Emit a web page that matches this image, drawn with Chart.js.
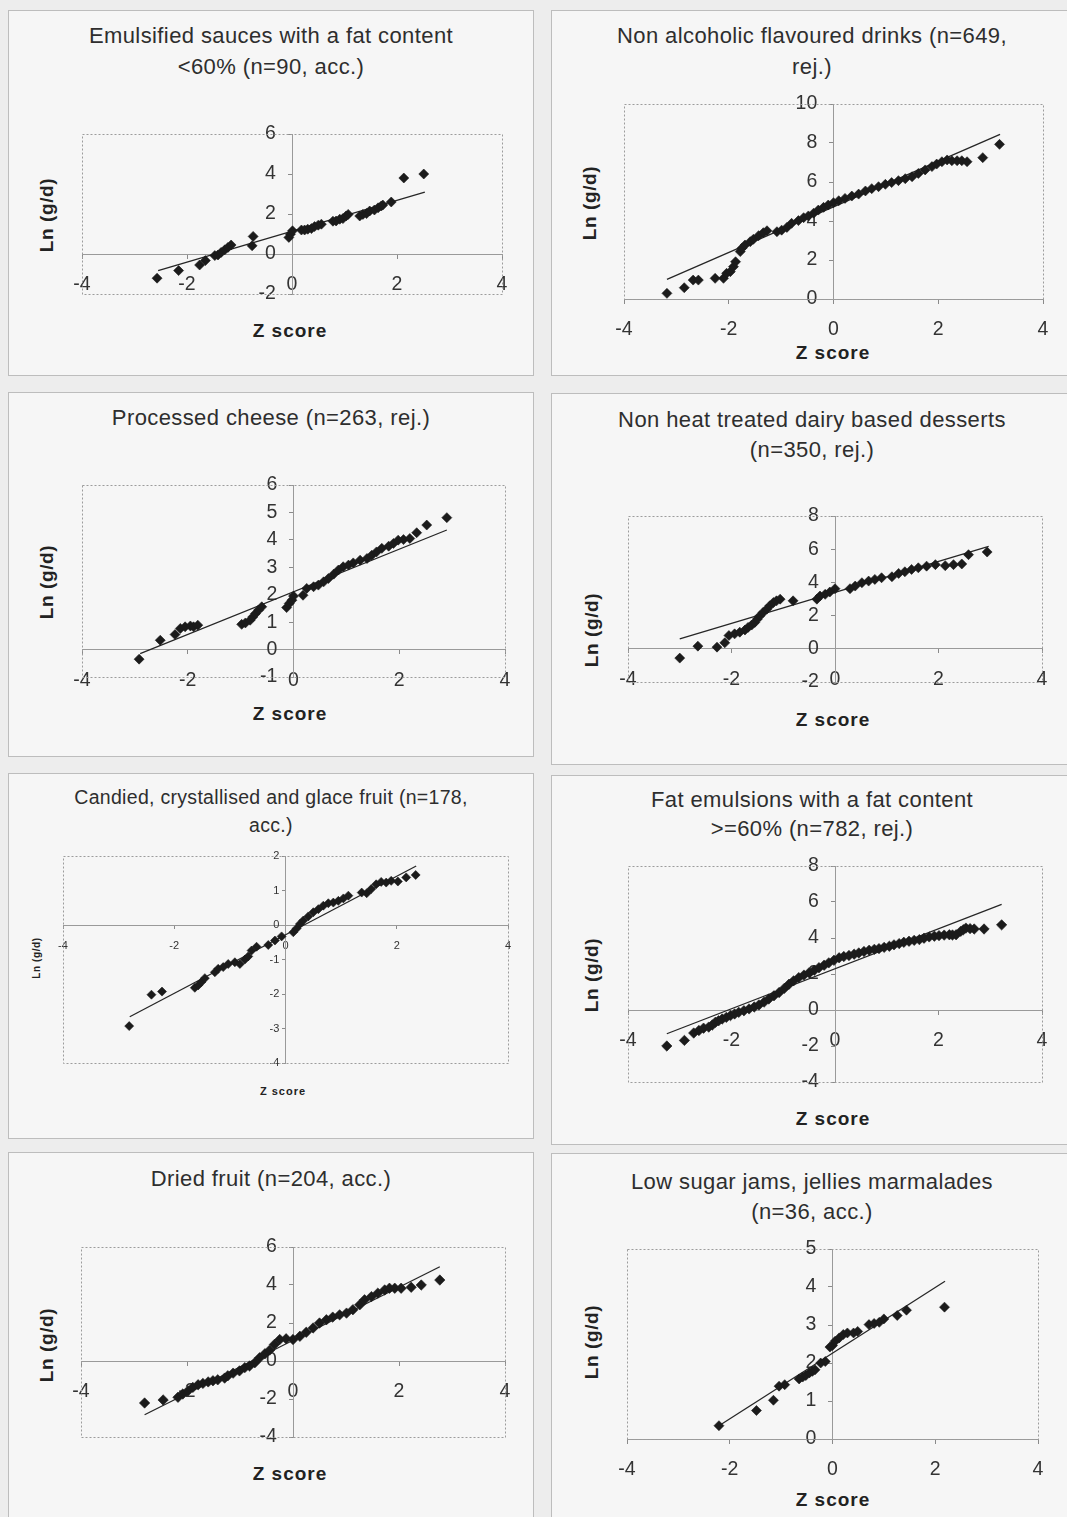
<!DOCTYPE html>
<html><head><meta charset="utf-8">
<script src="https://cdn.jsdelivr.net/npm/chart.js@4.4.1/dist/chart.umd.min.js"></script>
<style>
html,body{margin:0;padding:0;}
body{width:1067px;height:1517px;position:relative;overflow:hidden;background:#ededed;font-family:'Liberation Sans',Arial,sans-serif;}
.panel{position:absolute;border:1px solid #bdbdbd;background:#f6f6f6;box-sizing:border-box;}
.t{position:absolute;text-align:center;color:#2e2e2e;white-space:nowrap;height:26px;line-height:26px;}
.yl{position:absolute;font-weight:bold;color:#222;white-space:nowrap;transform:translate(-50%,-50%) rotate(-90deg);letter-spacing:0.6px;}
.xl{position:absolute;font-weight:bold;color:#222;white-space:nowrap;transform:translate(-50%,-50%);letter-spacing:1px;}
canvas{position:absolute;}
</style></head><body>
<script>
// ---------- DATA ----------
const titles = [
  ["Emulsified sauces with a fat content", "<60% (n=90, acc.)"],
  ["Non alcoholic flavoured drinks (n=649,", "rej.)"],
  ["Processed cheese (n=263, rej.)"],
  ["Non heat treated dairy based desserts", "(n=350, rej.)"],
  ["Candied, crystallised and glace fruit (n=178,", "acc.)"],
  ["Fat emulsions with a fat content", ">=60% (n=782, rej.)"],
  ["Dried fruit (n=204, acc.)"],
  ["Low sugar jams, jellies marmalades", "(n=36, acc.)"]
];
const xAxisTitle = "Z score";
const yAxisTitle = "Ln (g/d)";
const xRange = [-4, 4, 2];   // min, max, step

const p1YRange = [-2, 6, 2];
const p1Z  = [-2.57,-2.16,-1.76,-1.65,-1.47,-1.41,-1.35,-1.28,-1.22,-1.16,-0.76,-0.74,-0.06,-0.03,0.01,0.18,0.24,0.30,0.37,0.43,0.50,0.56,0.78,0.84,0.91,0.97,1.03,1.07,1.29,1.35,1.42,1.48,1.57,1.64,1.70,1.73,1.89,2.13,2.51];
const p1Ln = [-1.21,-0.83,-0.55,-0.33,-0.08,-0.05,0.08,0.21,0.33,0.45,0.41,0.88,0.83,0.99,1.16,1.20,1.20,1.24,1.27,1.37,1.44,1.49,1.64,1.65,1.74,1.77,1.90,1.98,1.90,1.98,2.02,2.15,2.20,2.31,2.40,2.45,2.60,3.80,4.00];
const p1FitZ = [-2.55, 2.53];
const p1FitLn = [-0.83, 3.09];

const p2YRange = [0, 10, 2];
const p2Z  = [-3.18,-2.85,-2.68,-2.58,-2.26,-2.10,-2.04,-1.97,-1.91,-1.87,-1.78,-1.75,-1.69,-1.59,-1.53,-1.43,-1.34,-1.27,-1.08,-0.99,-0.89,-0.80,-0.67,-0.57,-0.48,-0.38,-0.29,-0.19,-0.10,0.00,0.10,0.22,0.35,0.48,0.61,0.73,0.86,0.99,1.11,1.24,1.37,1.50,1.62,1.75,1.88,1.97,2.07,2.17,2.26,2.36,2.45,2.55,2.85,3.17];
const p2Ln = [0.29,0.58,0.97,0.97,1.06,1.06,1.32,1.40,1.66,1.91,2.43,2.60,2.77,2.94,3.06,3.25,3.40,3.50,3.45,3.53,3.67,3.88,4.02,4.17,4.26,4.40,4.56,4.70,4.82,4.94,5.04,5.16,5.28,5.38,5.54,5.66,5.76,5.88,5.97,6.07,6.17,6.27,6.44,6.62,6.79,6.92,7.04,7.13,7.09,7.09,7.09,7.04,7.25,7.93];
const p2FitZ = [-3.18, 3.18];
const p2FitLn = [1.01, 8.44];

const p3YRange = [-1, 6, 1];
const p3Z  = [-2.92,-2.52,-2.24,-2.14,-2.05,-1.95,-1.89,-1.81,-0.98,-0.91,-0.82,-0.77,-0.72,-0.66,-0.60,-0.13,-0.08,-0.03,0.00,0.18,0.25,0.38,0.47,0.57,0.66,0.76,0.85,0.94,1.04,1.13,1.26,1.39,1.48,1.57,1.67,1.80,1.89,1.98,2.08,2.20,2.33,2.52,2.90];
const p3Ln = [-0.35,0.34,0.55,0.77,0.83,0.86,0.83,0.89,0.92,0.97,1.07,1.19,1.31,1.44,1.56,1.53,1.68,1.80,1.95,1.98,2.23,2.29,2.35,2.47,2.59,2.75,2.90,3.02,3.08,3.16,3.26,3.32,3.44,3.56,3.69,3.77,3.87,3.99,4.01,4.05,4.26,4.54,4.81];
const p3FitZ = [-2.90, 2.90];
const p3FitLn = [-0.15, 4.36];

const p4YRange = [-2, 8, 2];
const p4Z  = [-3.00,-2.65,-2.28,-2.13,-2.05,-1.94,-1.84,-1.74,-1.68,-1.61,-1.55,-1.50,-1.45,-1.39,-1.32,-1.26,-1.19,-1.13,-1.06,-0.81,-0.35,-0.29,-0.19,-0.10,0.00,0.29,0.39,0.52,0.65,0.77,0.90,1.10,1.23,1.35,1.48,1.61,1.77,1.94,2.13,2.29,2.45,2.58,2.94];
const p4Ln = [-0.56,0.16,0.10,0.36,0.80,0.90,1.00,1.13,1.29,1.43,1.59,1.79,1.99,2.19,2.39,2.59,2.79,2.89,2.99,2.89,2.99,3.18,3.28,3.42,3.62,3.62,3.78,3.98,4.08,4.18,4.28,4.34,4.54,4.64,4.78,4.88,4.98,5.07,5.01,5.07,5.11,5.67,5.83];
const p4FitZ = [-3.00, 2.97];
const p4FitLn = [0.60, 6.17];

const p5YRange = [-4, 2, 1];
const p5Z  = [-2.81,-2.41,-2.22,-1.63,-1.57,-1.51,-1.45,-1.27,-1.21,-1.12,-1.03,-0.91,-0.82,-0.73,-0.67,-0.61,-0.52,-0.31,-0.19,-0.07,0.14,0.20,0.26,0.32,0.41,0.50,0.59,0.68,0.77,0.86,0.95,1.04,1.13,1.37,1.46,1.54,1.63,1.72,1.81,1.90,2.02,2.17,2.34];
const p5Ln = [-2.93,-2.02,-1.93,-1.82,-1.75,-1.65,-1.54,-1.37,-1.27,-1.22,-1.13,-1.08,-1.13,-1.00,-0.91,-0.74,-0.63,-0.58,-0.45,-0.33,-0.21,-0.10,0.03,0.13,0.25,0.37,0.46,0.56,0.63,0.65,0.70,0.77,0.85,0.94,0.92,1.04,1.18,1.25,1.23,1.28,1.26,1.38,1.45];
const p5FitZ = [-2.80, 2.35];
const p5FitLn = [-2.66, 1.71];

const p6YRange = [-4, 8, 2];
const p6Z  = [-3.25,-2.91,-2.73,-2.63,-2.54,-2.44,-2.37,-2.31,-2.25,-2.18,-2.10,-2.02,-1.94,-1.86,-1.76,-1.66,-1.56,-1.47,-1.37,-1.28,-1.18,-1.08,-0.98,-0.89,-0.80,-0.70,-0.60,-0.50,-0.40,-0.31,-0.21,-0.12,-0.02,0.08,0.17,0.27,0.37,0.46,0.56,0.66,0.76,0.85,0.95,1.05,1.14,1.24,1.33,1.43,1.53,1.63,1.72,1.82,1.92,2.01,2.11,2.21,2.27,2.34,2.43,2.48,2.53,2.61,2.69,2.88,3.22];
const p6Ln = [-2.00,-1.69,-1.28,-1.14,-1.01,-0.95,-0.83,-0.68,-0.60,-0.50,-0.41,-0.31,-0.22,-0.13,-0.04,0.06,0.17,0.28,0.44,0.61,0.79,0.97,1.20,1.43,1.62,1.80,1.94,2.07,2.21,2.35,2.49,2.62,2.76,2.90,2.97,3.03,3.10,3.17,3.25,3.32,3.37,3.41,3.48,3.54,3.62,3.69,3.76,3.82,3.87,3.91,3.99,4.06,4.10,4.13,4.16,4.18,4.17,4.18,4.37,4.46,4.55,4.52,4.50,4.50,4.73];
const p6FitZ = [-3.25, 3.22];
const p6FitLn = [-1.32, 5.87];

const p7YRange = [-4, 6, 2];
const p7Z  = [-2.80,-2.45,-2.17,-2.08,-1.98,-1.89,-1.79,-1.70,-1.60,-1.51,-1.42,-1.29,-1.23,-1.13,-1.01,-0.91,-0.82,-0.72,-0.63,-0.53,-0.44,-0.35,-0.25,-0.13,0.00,0.13,0.25,0.38,0.50,0.63,0.75,0.88,1.01,1.13,1.26,1.35,1.48,1.60,1.73,1.82,1.92,2.04,2.23,2.42,2.77];
const p7Ln = [-2.21,-2.05,-1.91,-1.74,-1.57,-1.39,-1.25,-1.18,-1.10,-1.04,-0.99,-0.90,-0.78,-0.64,-0.52,-0.35,-0.26,-0.09,0.17,0.38,0.57,0.87,1.13,1.17,1.13,1.30,1.51,1.74,2.00,2.17,2.31,2.43,2.52,2.70,2.96,3.22,3.39,3.57,3.74,3.83,3.83,3.83,3.88,4.00,4.26];
const p7FitZ = [-2.80, 2.77];
const p7FitLn = [-2.83, 4.96];

const p8YRange = [0, 5, 1];
const p8Z  = [-2.21,-1.48,-1.15,-1.04,-0.93,-0.65,-0.58,-0.52,-0.45,-0.39,-0.34,-0.23,-0.14,-0.05,0.00,0.05,0.13,0.21,0.29,0.41,0.49,0.71,0.81,0.91,1.00,1.26,1.44,2.18];
const p8Ln = [0.35,0.75,1.02,1.39,1.43,1.58,1.63,1.67,1.74,1.78,1.82,2.00,2.04,2.42,2.46,2.57,2.66,2.75,2.79,2.79,2.83,3.01,3.04,3.07,3.16,3.25,3.39,3.47];
const p8FitZ = [-2.21, 2.19];
const p8FitLn = [0.35, 4.15];

// ---------- LAYOUT (positions / styles only) ----------
const geo = [
  {box:[8,10,526,366],   ty:[36,67],   plot:[82,134,502,294],   yl:[47,215],  xl:[290,331],  tick:19.5, tf:22,   af:19, r:5.0, sp:'   ', tl:4, tp:15},
  {box:[551,10,522,366], ty:[36,67],   plot:[624,104,1043,299], yl:[590,203], xl:[833,353],  tick:19.5, tf:22,   af:19, r:5.0, sp:'   ', tl:4, tp:15},
  {box:[8,392,526,365],  ty:[418],     plot:[82,485,505,677],   yl:[47,582],  xl:[290,714],  tick:19.5, tf:22,   af:19, r:5.0, sp:'   ', tl:4, tp:15},
  {box:[551,393,522,372],ty:[420,450], plot:[628,516,1042,682], yl:[592,630], xl:[833,720],  tick:19.5, tf:22,   af:19, r:5.0, sp:'   ', tl:4, tp:15},
  {box:[8,773,526,366],  ty:[797,825], plot:[63,856,508,1063],  yl:[36,958],  xl:[283,1091], tick:11,   tf:19.5, af:11, r:4.5, sp:'  ',  tl:3, tp:11},
  {box:[551,775,522,370],ty:[800,829], plot:[628,866,1042,1082],yl:[592,975], xl:[833,1119], tick:19.5, tf:22,   af:19, r:5.2, sp:'   ', tl:4, tp:15},
  {box:[8,1152,526,380], ty:[1179],    plot:[81,1247,505,1437], yl:[47,1345], xl:[290,1474], tick:19.5, tf:22,   af:19, r:5.2, sp:'   ', tl:4, tp:15},
  {box:[551,1153,522,380],ty:[1182,1212],plot:[627,1249,1038,1439],yl:[592,1342],xl:[833,1500],tick:19.5, tf:22, af:19, r:5.0, sp:'   ', tl:4, tp:15}
];

const series = [
  [p1Z,p1Ln,p1FitZ,p1FitLn,p1YRange],
  [p2Z,p2Ln,p2FitZ,p2FitLn,p2YRange],
  [p3Z,p3Ln,p3FitZ,p3FitLn,p3YRange],
  [p4Z,p4Ln,p4FitZ,p4FitLn,p4YRange],
  [p5Z,p5Ln,p5FitZ,p5FitLn,p5YRange],
  [p6Z,p6Ln,p6FitZ,p6FitLn,p6YRange],
  [p7Z,p7Ln,p7FitZ,p7FitLn,p7YRange],
  [p8Z,p8Ln,p8FitZ,p8FitLn,p8YRange]
];

const plotFrame = {
  id: 'plotFrame',
  beforeDatasetsDraw(chart) {
    const {ctx, chartArea: a} = chart;
    ctx.save();
    ctx.strokeStyle = '#9c9c9c';
    ctx.lineWidth = 1;
    ctx.setLineDash([2, 2]);
    ctx.strokeRect(Math.round(a.left) + 0.5, Math.round(a.top) + 0.5,
                   Math.round(a.right - a.left), Math.round(a.bottom - a.top));
    ctx.restore();
  }
};

const pad = {l: 40, r: 30, t: 16, b: 46};

function addDiv(cls, text, css) {
  const d = document.createElement('div');
  d.className = cls;
  d.textContent = text;
  Object.assign(d.style, css);
  document.body.appendChild(d);
  return d;
}

geo.forEach((g, i) => {
  const [zs, lns, fz, fl, yr] = series[i];
  const p = document.createElement('div');
  p.className = 'panel';
  Object.assign(p.style, {left: g.box[0]+'px', top: g.box[1]+'px', width: g.box[2]+'px', height: g.box[3]+'px'});
  document.body.appendChild(p);
  titles[i].forEach((line, k) => {
    addDiv('t', line, {left: g.box[0]+'px', width: g.box[2]+'px', top: (g.ty[k]-13)+'px',
      fontSize: g.tf+'px', letterSpacing: (g.tf < 20 ? 0.3 : 0.4)+'px'});
  });
  addDiv('yl', yAxisTitle, {left: g.yl[0]+'px', top: g.yl[1]+'px', fontSize: (i === 4 ? 10 : g.af)+'px'});
  addDiv('xl', xAxisTitle, {left: g.xl[0]+'px', top: g.xl[1]+'px', fontSize: g.af+'px'});

  const w = g.plot[2]-g.plot[0]+pad.l+pad.r;
  const h = g.plot[3]-g.plot[1]+pad.t+pad.b;
  const c = document.createElement('canvas');
  c.width = w; c.height = h;
  Object.assign(c.style, {left: (g.plot[0]-pad.l)+'px', top: (g.plot[1]-pad.t)+'px', width: w+'px', height: h+'px'});
  document.body.appendChild(c);

  const tickFont = {family: "'Liberation Sans', Arial, sans-serif", size: g.tick};
  new Chart(c, {
    type: 'scatter',
    data: {
      datasets: [
        {
          data: zs.map((v, j) => ({x: v, y: lns[j]})),
          pointStyle: 'rectRot',
          pointRadius: g.r,
          pointBackgroundColor: '#1b1b1b',
          pointBorderColor: '#1b1b1b',
          pointBorderWidth: 0.6,
          showLine: false,
          clip: false
        },
        {
          data: fz.map((v, j) => ({x: v, y: fl[j]})),
          showLine: true,
          borderColor: '#262626',
          borderWidth: 1.3,
          pointRadius: 0,
          clip: false
        }
      ]
    },
    options: {
      responsive: false,
      animation: false,
      devicePixelRatio: 1,
      layout: {padding: {left: pad.l, right: pad.r, top: pad.t, bottom: pad.b}},
      plugins: {legend: {display: false}, tooltip: {enabled: false}, title: {display: false}},
      scales: {
        x: {
          type: 'linear', min: xRange[0], max: xRange[1], position: {y: 0},
          ticks: {stepSize: xRange[2], autoSkip: false, maxRotation: 0, color: '#333', font: tickFont, padding: g.tp},
          grid: {drawOnChartArea: false, tickLength: g.tl, tickColor: '#8a8a8a'},
          border: {display: true, color: '#9a9a9a', width: 1},
          afterFit(s) { s.height = 0; }
        },
        y: {
          type: 'linear', min: yr[0], max: yr[1], position: {x: 0},
          ticks: {stepSize: yr[2], autoSkip: false, color: '#333', font: tickFont,
                  callback: (v) => String(v) + g.sp},
          grid: {drawOnChartArea: false, tickLength: g.tl, tickColor: '#8a8a8a'},
          border: {display: true, color: '#9a9a9a', width: 1},
          afterFit(s) { s.width = 0; }
        }
      }
    },
    plugins: [plotFrame]
  });
});
</script>
</body></html>
